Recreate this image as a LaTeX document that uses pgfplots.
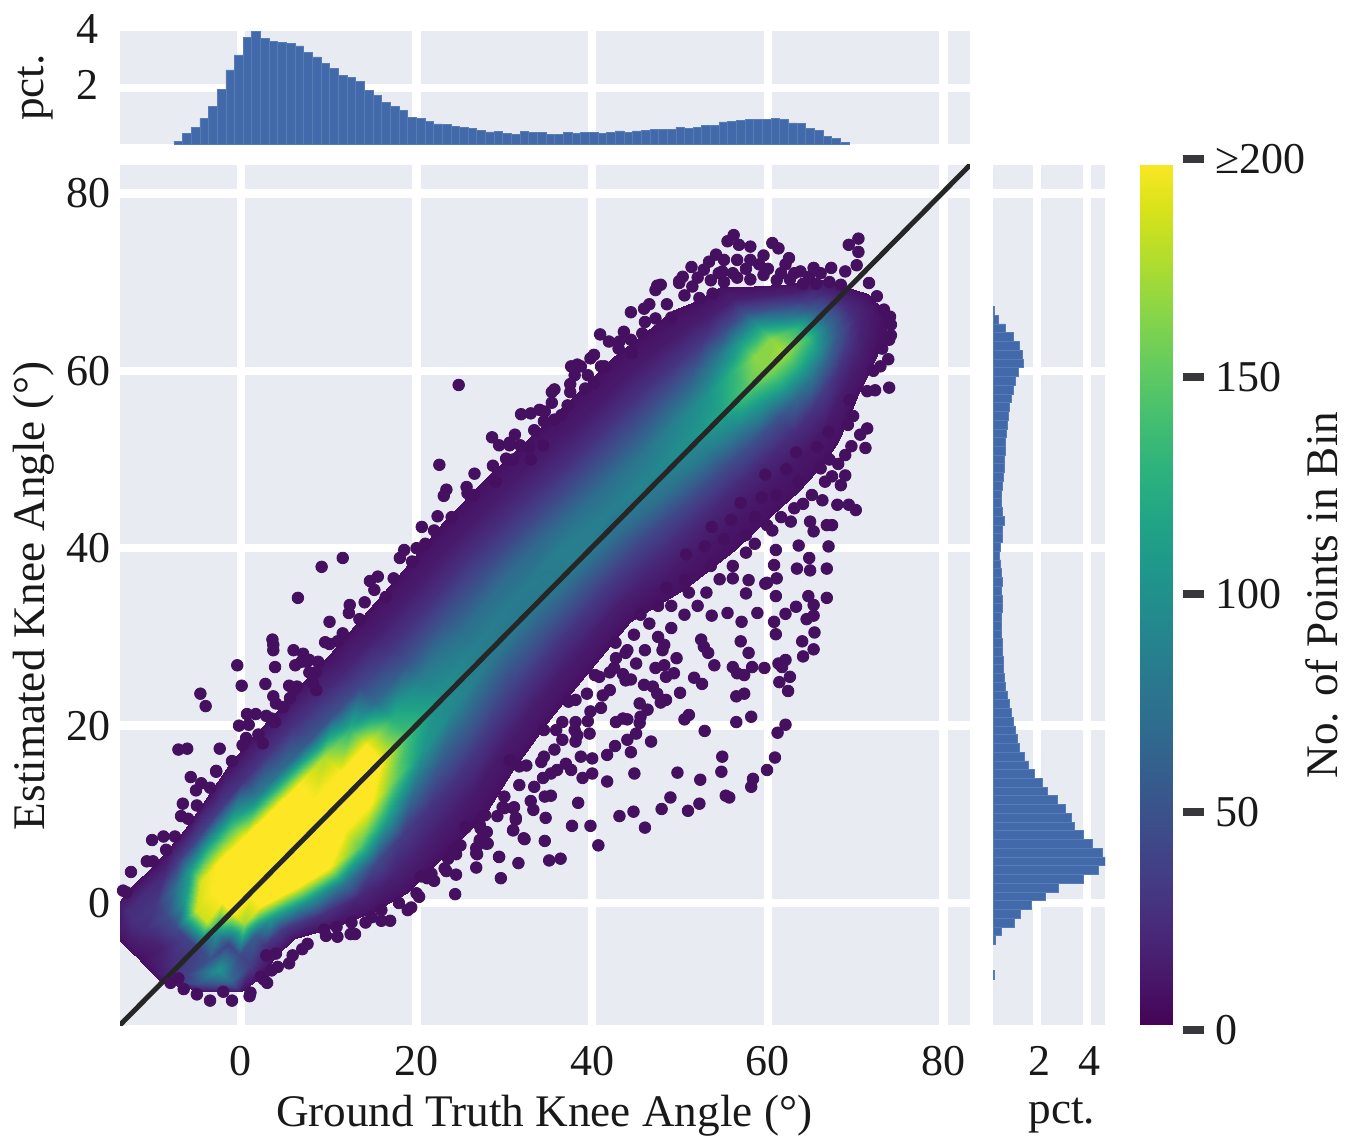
\documentclass[border=0pt]{standalone}
\usepackage{fontspec}
\setmainfont{Liberation Serif}
\usepackage{pgfplots}
\pgfplotsset{compat=1.18}
\definecolor{panelbg}{RGB}{233,235,243}
\definecolor{barblue}{RGB}{66,106,170}
\definecolor{barline}{RGB}{88,124,180}
\definecolor{dot}{RGB}{70,16,96}
\definecolor{linedark}{RGB}{38,38,38}
\definecolor{tickdark}{RGB}{55,55,60}
\newcommand{\tickfont}{\fontsize{22}{24}\selectfont}
\newcommand{\labfont}{\fontsize{22.6}{25}\selectfont}
\pgfplotsset{panel/.style={
  scale only axis, anchor=south west,
  /pgf/number format/assume math mode=true,
  tick label style={font=\tickfont, text=black!90},
  label style={font=\labfont, text=black!90},
  major tick length=0pt, tick style={draw=none},
  axis line style={draw=none},
  axis background/.style={fill=panelbg},
  grid=major, major grid style={white, line width=4.2pt},
}}
\begin{document}
\begin{tikzpicture}
\path[use as bounding box] (0,0) rectangle (680pt,570pt);
% ---------- main panel
\begin{axis}[panel, at={(60pt,57.5pt)}, width=425pt, height=430pt,
  xmin=-13.75, xmax=83, ymin=-13.75, ymax=83.2,
  xtick={0,20,40,60,80}, ytick={0,20,40,60,80},
  xticklabel style={yshift=-7pt}, yticklabel style={xshift=-1pt},
  xlabel={Ground Truth Knee Angle (°)}, ylabel={Estimated Knee Angle (°)},
  xlabel style={at={(axis description cs:0.499,-0.105)}, anchor=center},
  ylabel style={at={(axis description cs:-0.102,0.499)}, anchor=center},
  colormap/viridis, point meta min=0, point meta max=200]
\addplot[only marks, mark=*, mark size=2.9pt, color=dot, mark options={draw=none}] coordinates {
(53.6,32.4)(55.4,32.7)(57.0,31.7)(58.8,32.7)(60.7,31.7)(62.0,32.6)(63.2,33.4)(64.4,32.0)(65.2,32.4)(60.9,30.3)(60.9,34.6)(57.5,34.9)(59.9,36.1)(61.0,36.6)(57.8,36.4)(56.0,36.6)(63.3,37.7)(64.6,34.6)(66.7,34.4)(65.2,33.6)
(52.4,29.7)(52.7,28.9)(53.2,28.2)(56.9,29.5)(57.8,28.2)(63.9,29.5)(65.3,30.5)(65.2,28.6)(64.0,27.8)(53.9,26.8)(56.0,26.6)(56.5,25.9)(57.3,25.7)(58.2,26.6)(59.6,26.5)(61.2,27.0)(62.0,27.4)(61.6,26.6)(62.5,25.5)(61.3,24.9)(62.3,23.9)
(51.6,25.4)(52.5,24.7)(50.0,23.7)(56.4,23.3)(57.3,23.6)(49.6,27.6)(48.2,29.1)(48.0,28.5)(47.2,26.5)(48.2,26.8)(49.3,25.9)(48.4,25.5)(43.8,25.1)(44.4,25.2)(45.9,24.6)(46.9,24.4)(47.4,23.6)(48.4,22.9)(47.8,22.6)
(45.4,22.5)(46.3,21.8)(45.5,21.0)(45.4,20.3)(43.5,20.8)(42.7,20.4)(44.0,20.7)(51.0,21.2)(50.5,20.7)(56.4,20.4)(58.1,21.0)(52.8,19.4)(62.0,20.1)(61.1,19.2)(45.0,19.1)(44.0,18.4)(46.7,18.2)(42.6,17.7)(41.7,16.7)(44.4,17.0)(54.8,16.5)
(60.8,16.4)(59.9,15.0)(58.3,14.0)(58.1,13.1)(54.7,14.8)(52.3,13.9)(49.7,14.7)(44.8,14.6)(41.7,13.7)(55.2,12.1)(55.6,11.9)(48.9,11.9)(52.2,11.2)(50.9,10.4)(47.9,10.6)(44.7,10.3)(43.1,9.8)(46.0,8.5)(39.8,8.7)(40.7,6.5)(38.4,11.3)(37.7,8.7)
(34.7,9.6)(33.3,10.5)(35.3,12.1)(34.6,12.0)(34.6,7.0)(32.2,7.3)(31.0,8.2)(31.3,9.6)(30.0,10.7)(31.1,10.8)(27.8,9.9)(27.2,8.8)(25.6,8.6)(27.9,6.7)(27.2,7.1)(26.8,5.6)(29.4,5.2)(35.1,4.8)(36.4,5.0)
(39.8,21.6)(38.1,20.4)(38.3,18.9)(39.7,19.1)(36.6,18.4)(38.1,18.2)(35.7,17.3)(34.2,15.9)(37.0,15.7)(38.7,16.5)(37.6,15.0)(40.0,16.3)(40.0,14.6)(38.9,14.1)(35.3,14.6)(34.4,14.1)(33.4,13.1)(31.7,15.4)(41.2,23.4)(38.1,22.9)(40.8,25.5)(42.7,27.6)(43.8,28.2)(35.9,19.5)(30.6,16.1)
(56.1,75.3)(55.4,74.6)(56.7,74.2)(60.5,74.4)(61.2,73.8)(62.4,72.7)(54.1,73.1)(53.3,72.3)(56.5,72.5)(54.4,71.0)(63.7,71.2)(65.2,71.6)(67.2,71.6)(64.7,70.6)(70.3,74.9)(69.2,74.2)(70.3,73.4)(70.1,71.9)(71.5,69.9)(72.4,68.4)(73.2,66.9)(73.9,66.1)(68.3,69.7)
(47.8,69.7)(47.2,69.1)(50.3,70.6)(49.9,69.9)(51.4,69.5)(52.2,68.2)(45.9,67.0)(53.7,68.7)(41.9,63.3)(43.1,63.3)(44.4,63.5)(39.8,61.4)(38.7,60.5)(37.6,60.5)(41.4,60.5)(35.7,57.9)(37.5,57.6)(39.2,58.0)(40.2,58.6)(35.4,56.4)(33.0,55.2)(34.5,54.3)(35.7,54.5)(33.4,53.3)(34.4,51.6)(30.6,51.9)(30.2,50.1)(32.8,51.4)(37.2,56.1)(45.7,64.2)(47.2,65.9)
(73.8,58.1)(72.2,57.8)(71.3,53.5)(71.1,51.3)(69.7,54.9)(68.8,50.5)(67.3,48.1)(68.8,48.2)(68.3,47.1)(67.9,44.9)(69.2,44.9)(70.0,44.3)(66.7,42.6)(67.3,42.6)(65.2,41.9)(63.5,40.3)(66.9,40.2)(64.7,38.9)(66.7,37.7)(64.8,37.5)(60.9,39.8)(60.7,38.1)(59.7,36.0)(64.8,43.0)(62.6,43.0)(59.9,42.6)(66.2,45.4)
(3.7,29.1)(3.7,28.5)(10.1,29.2)(6.0,28.5)(7.1,28.1)(6.9,27.2)(7.5,27.2)(-0.4,26.8)(3.9,26.6)(7.8,26.0)(0.1,24.5)(2.8,24.7)(6.4,24.4)(8.2,24.8)(8.6,24.0)(-4.6,23.6)(-4.0,22.2)(5.6,23.1)(4.8,22.1)(0.7,21.3)(1.7,21.3)(3.5,20.8)(3.9,20.4)(-0.2,20.0)(0.6,18.6)(2.5,18.0)(-7.1,17.3)(-6.1,17.4)(-5.7,14.2)(-2.8,14.9)(-5.1,12.7)(-6.6,11.2)(-8.8,7.5)(-10.0,4.7)(-13.0,1.2)
(4.0,-5.7)(2.9,-5.9)(3.5,-7.6)(2.3,-8.3)(-7.1,-8.5)(12.6,-2.2)(14.9,-1.6)(16.0,-0.8)(19.4,-0.5)(20.0,1.1)(24.4,1.0)(24.5,3.2)(29.6,2.8)(26.8,4.0)(31.6,4.5)(29.4,5.2)(26.9,5.5)(28.1,6.7)(27.2,6.9)(32.3,7.2)(31.0,8.2)(25.6,8.5)(27.3,8.4)(31.3,9.4)(31.0,10.7)(29.8,10.8)(21.7,3.3)(20.5,3.0)(23.2,3.9)(24.3,6.0)(23.6,5.0)(9.5,-3.0)(10.9,-2.7)
(24.8,58.4)(22.6,49.4)(28.6,52.5)(31.8,51.6)(15.6,36.8)(11.6,38.9)(9.2,37.9)(6.5,34.4)(23.4,46.6)(25.7,46.9)(22.0,42.0)(18.6,39.8)(15.2,35.3)(12.4,33.6)(10.1,31.7)(7.8,27.4)(3.6,29.7)(30.6,51.6)(34.0,55.6)(38.0,59.5)
(-13.4,1.4)(-12.5,3.5)(-10.7,4.7)(-10.1,7.1)(-7.5,7.5)(-6.8,9.8)(-5,11)(-4.5,13.5)(-2.8,14.8)(-2.4,17.4)(.2,17.8)(.9,20.1)(2.9,21.1)(3.7,23.3)(5.5,24.5)(6.2,26.8)(8.8,27.2)(9.6,29.4)(11.6,30.4)(12.3,32.7)(14.1,33.9)(14.7,36.3)(17.4,36.6)(18.1,38.9)(20,40)(20.6,42.4)(22.4,43.6)(23.1,45.9)(25.8,46.2)(26.6,48.4)(28.7,49.3)(29.4,51.6)(31.2,52.8)(31.9,55.1)(34.6,55.4)(35.4,57.6)(37.5,58.5)(38.3,60.7)(40.2,61.8)(40.9,64.1)(43.6,64.4)(44.4,66.6)(46.5,67.5)(47.4,69.6)(49.9,70.1)(51.3,71.7)(54.8,71.2)(58,72.5)(59.5,73)(62,72)(66,71)(68.8,71.2)(52.7,71.4)(55,72.5)
(-2,-10)(1.1,-10.1)(2.6,-8.6)(4.2,-7.2)(5.9,-5.9)(7.6,-4.6)(9.7,-3.7)(12.5,-3.5)(14.2,-2.2)(17,-2)(18,0)(20.3,.7)(21.2,2.8)(23.4,3.6)(24.5,5.5)(26.8,6.2)(27.1,8.9)(29.2,9.8)(30,12)(31.7,13.3)(32.5,15.5)(34.5,16.5)(34.5,19.5)(36.6,20.4)(37.3,22.7)(39.4,23.6)(40.3,25.7)(42.5,26.5)(42.65,29.35)(44.75,30.25)(45.5,32.5)(47.5,33.5)(48.45,35.55)(50.55,36.45)(50.7,39.3)(52.8,40.2)(53.6,42.4)(55.8,43.2)(56.9,45.1)(59.3,45.7)(59.7,48.3)(62.1,48.9)(63.2,50.8)(65.6,51.4)(66.9,53.1)(69.1,53.9)(69.3,56.7)(71.3,57.7)(72,60)(73.7,61.3)(74,64)(73,62.5)(73.8,63.5)(74,65.2)(72.8,60.5)
(52,70.5)(53.5,70.2)(55,70)(56.5,70.5)(58,70.3)(59.5,70.8)(61,70.2)(62.5,70.3)(64,69.8)(65.5,69.8)(67,70)(57.5,71.5)(60,71.5)(61.5,71)(63,71)(58,74)(56,71)(59,72)(50.5,68.5)(48.5,67.5)(49,66)(46,65.5)(43,62.5)(44.5,62)(41,60.5)(39.5,59.5)(36.5,55)(33,50)(31,50)(29,47.5)(26.5,46)(24,43.5)(21,40.5)(19.5,38.5)(16.5,34.5)(13.5,32)(11,29.5)(8.5,26)(6,24)(4,22.5)(2,19)(-1,16)(-3.5,13)(-6,9.5)(-8.5,6)
(68,49.5)(66.5,47.5)(65,46)(64,45)(63,44.5)(61.5,43.5)(60.5,42)(58.5,40.5)(57.5,39.5)(56,38)(54.5,36.5)(53,35)(52,33.5)(50.5,32.5)(49,31)(47.5,30)(46,28.5)(45,27)(43.5,25.8)(42,24)(41,22)(39.5,20.5)(38,19.5)(69.5,51.5)(70.5,52.8)(66,49)(67,50)(63.5,47.5)(61,46)(58.5,43.5)(57.5,41.5)(55,41)(53.5,38)(51,35)(49,33.5)(46.5,31.5)(44,28.5)(42,26)(36,15)(33,11.5)(28,8)(25,6.5)(22,2.5)(19,-.8)(16,-2)(13,-3.5)(11,-3.8)(7,-5.2)(5.5,-6.8)(3,-9)(1,-10.5)(-1,-11)(-3.5,-11)(-5,-10.3)(-6.5,-9.7)(-8,-9)
};
\addplot[surf, shader=interp, point meta=explicit, mesh/rows=27, mesh/cols=11]
 table[row sep=\\, x index=0, y index=1, meta index=2, header=false] {
-14.5 -3.5 8\\-13.95 -4.05 8\\-13.4 -4.6 8\\-12.85 -5.15 8\\-12.3 -5.7 8\\-11.75 -6.25 8\\-11.2 -6.8 8\\-10.65 -7.35 8\\-10.1 -7.9 8\\-9.55 -8.45 8\\-9 -9 8\\
-14 0 12\\-13 -1 25\\-12 -2 28\\-11 -3 25\\-10 -4 20\\-9 -5 18\\-8 -6 25\\-7 -7 30\\-6 -8 40\\-5 -9 50\\-4 -10 8\\
-12.2 2.2 8\\-10.98 .98 25\\-9.76 -.24 32\\-8.54 -1.46 45\\-7.32 -2.68 45\\-6.1 -3.9 40\\-4.88 -5.12 40\\-3.66 -6.34 50\\-2.44 -7.56 105\\-1.22 -8.78 70\\0 -10 8\\
-10.1 4.1 8\\-8.86 2.86 25\\-7.62 1.62 70\\-6.38 .38 110\\-5.14 -.86 185\\-3.9 -2.1 185\\-2.66 -3.34 100\\-1.42 -4.58 40\\-.18 -5.82 45\\1.06 -7.06 35\\2.3 -8.3 8\\
-8.2 6.2 8\\-6.98 4.98 35\\-5.76 3.76 110\\-4.54 2.54 190\\-3.32 1.32 200\\-2.1 .1 200\\-.88 -1.12 200\\.34 -2.34 170\\1.56 -3.56 60\\2.78 -4.78 30\\4 -6 8\\
-6.3 8.3 8\\-5.07 7.07 40\\-3.84 5.84 130\\-2.61 4.61 200\\-1.38 3.38 200\\-.15 2.15 200\\1.08 .92 200\\2.31 -.31 200\\3.54 -1.54 110\\4.77 -2.77 35\\6 -4 8\\
-3.9 11.9 8\\-2.44 10.44 35\\-.98 8.98 130\\.48 7.52 200\\1.94 6.06 200\\3.4 4.6 200\\4.86 3.14 200\\6.32 1.68 200\\7.78 .22 100\\9.24 -1.24 28\\10.7 -2.7 8\\
-1.4 15.4 8\\.24 13.76 30\\1.88 12.12 85\\3.52 10.48 200\\5.16 8.84 200\\6.8 7.2 200\\8.44 5.56 200\\10.08 3.92 200\\11.72 2.28 80\\13.36 .64 22\\15 -1 8\\
1.3 18.7 8\\3.06 16.94 30\\4.82 15.18 70\\6.58 13.42 200\\8.34 11.66 200\\10.1 9.9 200\\11.86 8.14 200\\13.62 6.38 150\\15.38 4.62 45\\17.14 2.86 18\\18.9 1.1 8\\
4.2 21.8 8\\5.97 20.03 28\\7.74 18.26 55\\9.51 16.49 175\\11.28 14.72 200\\13.05 12.95 200\\14.82 11.18 200\\16.59 9.41 110\\18.36 7.64 35\\20.13 5.87 18\\21.9 4.1 8\\
7.1 24.9 8\\8.88 23.12 25\\10.66 21.34 50\\12.44 19.56 130\\14.22 17.78 200\\16 16 200\\17.78 14.22 150\\19.56 12.44 70\\21.34 10.66 30\\23.12 8.88 16\\24.9 7.1 8\\
10 28 8\\11.79 26.21 20\\13.58 24.42 42\\15.37 22.63 70\\17.16 20.84 125\\18.95 19.05 140\\20.74 17.26 105\\22.53 15.47 55\\24.32 13.68 28\\26.11 11.89 14\\27.9 10.1 8\\
13.8 32.2 8\\15.52 30.48 16\\17.24 28.76 30\\18.96 27.04 52\\20.68 25.32 85\\22.4 23.6 100\\24.12 21.88 92\\25.84 20.16 60\\27.56 18.44 32\\29.28 16.72 14\\31 15 8\\
18.5 37.5 8\\20.17 35.83 15\\21.84 34.16 28\\23.51 32.49 50\\25.18 30.82 72\\26.85 29.15 85\\28.52 27.48 80\\30.19 25.81 52\\31.86 24.14 30\\33.53 22.47 15\\35.2 20.8 8\\
23 43 8\\24.67 41.33 14\\26.34 39.66 26\\28.01 37.99 44\\29.68 36.32 70\\31.35 34.65 82\\33.02 32.98 80\\34.69 31.31 55\\36.36 29.64 30\\38.03 27.97 15\\39.7 26.3 8\\
28 48 8\\29.63 46.37 14\\31.26 44.74 24\\32.89 43.11 42\\34.52 41.48 66\\36.15 39.85 84\\37.78 38.22 84\\39.41 36.59 58\\41.04 34.96 32\\42.67 33.33 16\\44.3 31.7 8\\
33.2 52.8 8\\34.94 51.06 14\\36.68 49.32 26\\38.42 47.58 46\\40.16 45.84 72\\41.9 44.1 85\\43.64 42.36 72\\45.38 40.62 42\\47.12 38.88 24\\48.86 37.14 13\\50.6 35.4 8\\
38.4 57.6 8\\40.18 55.82 14\\41.96 54.04 28\\43.74 52.26 50\\45.52 50.48 78\\47.3 48.7 92\\49.08 46.92 75\\50.86 45.14 42\\52.64 43.36 22\\54.42 41.58 12\\56.2 39.8 8\\
42.4 61.6 8\\44.2 59.8 14\\46 58 28\\47.8 56.2 55\\49.6 54.4 88\\51.4 52.6 102\\53.2 50.8 82\\55 49 45\\56.8 47.2 22\\58.6 45.4 12\\60.4 43.6 8\\
45.8 64.2 8\\47.57 62.43 14\\49.34 60.66 30\\51.11 58.89 62\\52.88 57.12 100\\54.65 55.35 118\\56.42 53.58 90\\58.19 51.81 48\\59.96 50.04 22\\61.73 48.27 12\\63.5 46.5 8\\
49.2 66.8 8\\50.92 65.08 14\\52.64 63.36 32\\54.36 61.64 80\\56.08 59.92 130\\57.8 58.2 150\\59.52 56.48 105\\61.24 54.76 50\\62.96 53.04 25\\64.68 51.32 12\\66.4 49.6 8\\
52 68 8\\53.6 66.4 16\\55.2 64.8 45\\56.8 63.2 110\\58.4 61.6 165\\60 60 165\\61.6 58.4 120\\63.2 56.8 65\\64.8 55.2 28\\66.4 53.6 13\\68 52 8\\
54.5 69.5 8\\55.97 68.03 18\\57.44 66.56 50\\58.91 65.09 110\\60.38 63.62 165\\61.85 62.15 175\\63.32 60.68 130\\64.79 59.21 80\\66.26 57.74 35\\67.73 56.27 15\\69.2 54.8 8\\
58.4 69.6 8\\59.6 68.4 18\\60.8 67.2 45\\62 66 85\\63.2 64.8 130\\64.4 63.6 140\\65.6 62.4 105\\66.8 61.2 60\\68 60 28\\69.2 58.8 14\\70.4 57.6 8\\
62.2 69.8 8\\63.15 68.85 16\\64.1 67.9 35\\65.05 66.95 55\\66 66 70\\66.95 65.05 70\\67.9 64.1 55\\68.85 63.15 35\\69.8 62.2 22\\70.75 61.25 14\\71.7 60.3 8\\
65.5 70.5 8\\66.25 69.75 14\\67 69 18\\67.75 68.25 22\\68.5 67.5 25\\69.25 66.75 25\\70 66 22\\70.75 65.25 18\\71.5 64.5 14\\72.25 63.75 10\\73 63 8\\
71.2 68.8 8\\71.46 68.54 8\\71.72 68.28 8\\71.98 68.02 8\\72.24 67.76 8\\72.5 67.5 8\\72.76 67.24 8\\73.02 66.98 8\\73.28 66.72 8\\73.54 66.46 8\\73.8 66.2 8\\
};
\addplot[linedark, line width=2.5pt, line cap=round] coordinates {(-13.75,-13.75)(83,83.2)};
\end{axis}
% ---------- top histogram
\begin{axis}[panel, at={(60pt,497.75pt)}, width=425pt, height=56.75pt,
  xmin=-13.75, xmax=83, ymin=0, ymax=4.03,
  xtick={0,20,40,60,80}, xticklabels={}, ytick={2},
  extra y ticks={4}, extra y tick style={grid=none},
  yticklabel style={xshift=-7pt, yshift=1.5pt},
  ylabel={pct.},
  ylabel style={at={(axis description cs:-0.099,0.5)}, anchor=center}]
\addplot[ybar interval, fill=barblue, draw=barline, line width=0.3pt] coordinates {
(-7.61,0.12)(-6.63,0.39)(-5.64,0.62)(-4.66,0.92)(-3.67,1.35)(-2.69,1.95)(-1.70,2.65)(-0.72,3.18)(0.27,3.79)(1.25,4.02)(2.24,3.76)(3.22,3.67)(4.21,3.62)(5.19,3.60)(6.18,3.50)(7.16,3.26)(8.15,3.11)(9.13,2.87)(10.12,2.69)(11.10,2.45)(12.09,2.39)(13.07,2.24)(14.06,1.92)(15.04,1.75)(16.03,1.50)(17.01,1.35)(18.00,1.20)(18.98,0.96)(19.97,0.92)(20.95,0.82)(21.94,0.73)(22.92,0.71)(23.91,0.65)(24.89,0.61)(25.88,0.57)(26.86,0.50)(27.85,0.45)(28.83,0.46)
(29.82,0.39)(30.80,0.37)(31.79,0.46)(32.77,0.44)(33.76,0.43)(34.74,0.36)(35.73,0.36)(36.71,0.43)(37.70,0.40)(38.68,0.42)(39.67,0.43)(40.65,0.39)(41.64,0.43)(42.62,0.48)(43.61,0.43)(44.59,0.48)(45.58,0.50)(46.56,0.54)(47.55,0.54)(48.53,0.54)(49.52,0.62)(50.50,0.56)(51.49,0.62)(52.47,0.67)(53.46,0.68)(54.44,0.80)(55.43,0.82)(56.41,0.85)(57.40,0.89)(58.38,0.90)(59.37,0.89)(60.35,0.94)(61.34,0.90)(62.32,0.77)(63.31,0.74)(64.29,0.58)(65.28,0.50)(66.26,0.30)(67.25,0.21)(68.23,0.08)(69.22,0.02)};
\end{axis}
% ---------- right histogram
\begin{axis}[panel, at={(496.5pt,57.5pt)}, width=56pt, height=430pt,
  xmin=0.25, xmax=4.73, ymin=-13.75, ymax=83.2,
  xtick={2,4}, ytick={0,20,40,60,80}, yticklabels={},
  xticklabel style={yshift=-7pt, xshift=1.5pt},
  xlabel={pct.},
  xlabel style={at={(axis description cs:0.616,-0.105)}, anchor=center}]
\addplot[xbar interval, fill=barblue, draw=barline, line width=0.3pt] coordinates {(0.30,-8.60)(0.30,-7.61)};
\addplot[xbar interval, fill=barblue, draw=barline, line width=0.3pt] coordinates {
(0.34,-4.66)(0.58,-3.67)(1.09,-2.69)(1.34,-1.70)(1.78,-0.72)(2.34,0.27)(2.88,1.25)(3.86,2.24)(4.48,3.22)(4.73,4.21)(4.62,5.19)(4.22,6.18)(3.88,7.16)(3.52,8.15)(3.38,9.13)(3.13,10.12)(2.84,11.10)(2.44,12.09)(2.24,13.07)(1.92,14.06)(1.68,15.04)(1.49,16.03)(1.32,17.01)(1.24,18.00)(1.14,18.98)(1.05,19.97)(0.98,20.95)(0.92,21.94)(0.81,22.92)
(0.75,23.91)(0.72,24.89)(0.68,25.88)(0.66,26.86)(0.64,27.85)(0.62,28.83)(0.60,29.82)(0.60,30.80)(0.60,31.79)(0.64,32.77)(0.61,33.76)(0.58,34.74)(0.61,35.73)(0.58,36.71)(0.56,37.70)(0.50,38.68)(0.54,39.67)(0.61,40.65)(0.64,41.64)(0.70,42.62)(0.61,43.61)(0.58,44.59)(0.58,45.58)(0.64,46.56)(0.66,47.55)(0.69,48.53)(0.72,49.52)(0.74,50.50)(0.74,51.49)(0.78,52.47)(0.84,53.46)(0.88,54.44)(0.92,55.43)(0.98,56.41)(1.08,57.40)(1.14,58.38)(1.28,59.37)(1.45,60.35)(1.41,61.34)(1.32,62.32)(1.08,63.31)(0.74,64.29)(0.48,65.28)(0.30,66.26)(0.30,67.25)};
\end{axis}
% ---------- colour bar
\begin{axis}[scale only axis, anchor=south west, at={(570pt,57.5pt)}, width=16pt, height=430pt,
  xmin=0, xmax=1, ymin=1.15, ymax=198.6, hide axis,
  colormap/viridis, point meta min=0, point meta max=200]
\addplot[surf, shader=interp, point meta=explicit, mesh/rows=2, mesh/cols=2]
 table[row sep=\\, x index=0, y index=1, meta index=2, header=false] {
0 1.15 1.15\\1 1.15 1.15\\
0 198.6 198.6\\1 198.6 198.6\\
};
\end{axis}
\begin{axis}[scale only axis, anchor=south west, at={(591.5pt,55pt)}, width=10.5pt, height=435.5pt,
  xmin=0, xmax=1, ymin=0, ymax=200,
  axis line style={draw=none}, xtick=\empty,
  ytick={0,50,100,150,200}, yticklabels={0,50,100,150,≥200},
  ytick pos=left, yticklabel pos=right, tick align=inside,
  major tick length=10.5pt, y tick style={draw=tickdark, line width=4pt},
  /pgf/number format/assume math mode=true,
  tick label style={font=\tickfont, text=black!90}, yticklabel style={xshift=2pt},
  ylabel={No. of Points in Bin}, label style={font=\labfont, text=black!90},
  ylabel style={at={(axis description cs:6.62,0.4994)}, anchor=center}]
\end{axis}
\end{tikzpicture}
\end{document}
